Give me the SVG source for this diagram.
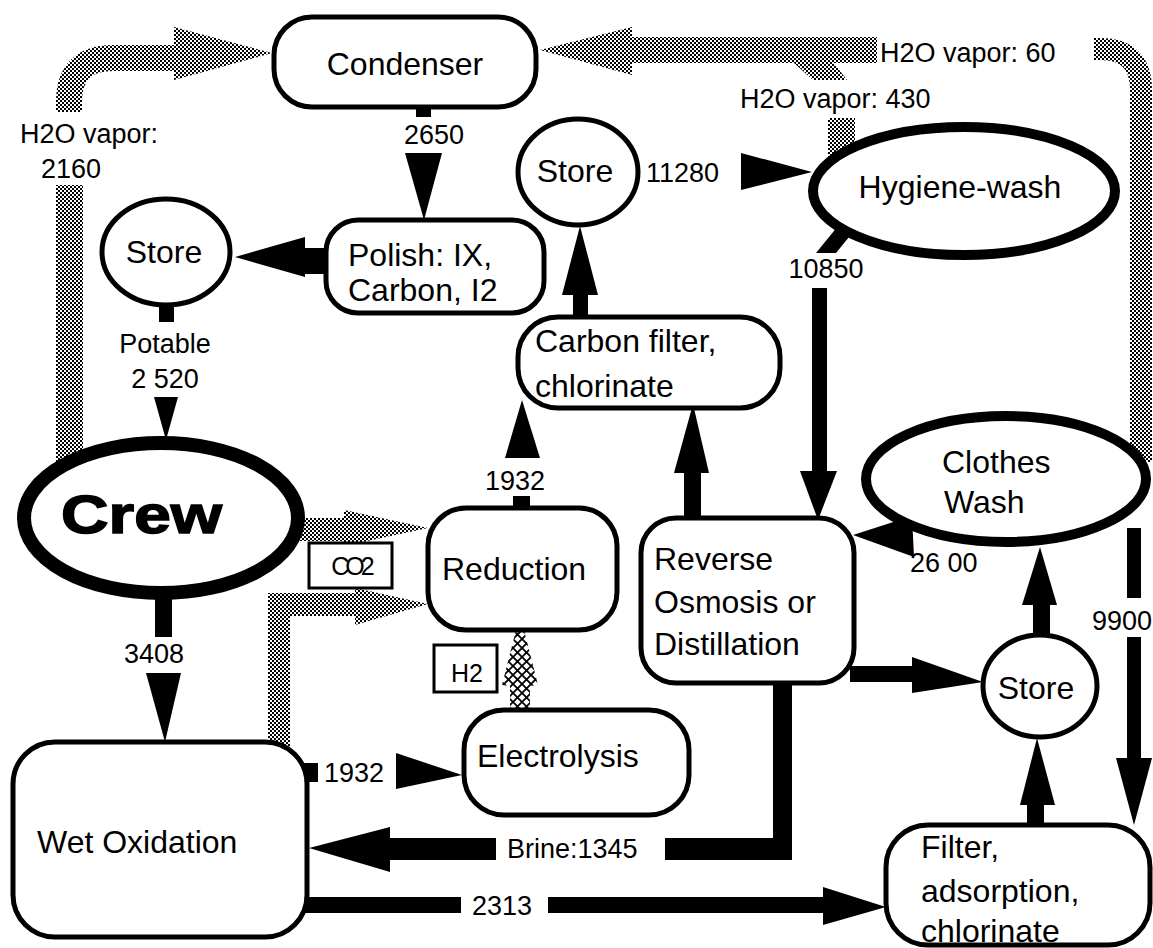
<svg xmlns="http://www.w3.org/2000/svg" width="1153" height="948" viewBox="0 0 1153 948">
<style>
.node{fill:#fff;stroke:#000;stroke-width:5}
.thick{stroke-width:10}
.crew{stroke-width:14}
.t{font-family:"Liberation Sans",Arial,Helvetica,sans-serif;font-size:32px;fill:#000}
.l{font-family:"Liberation Sans",Arial,Helvetica,sans-serif;font-size:27px;fill:#000}
.s{font-family:"Liberation Sans",Arial,Helvetica,sans-serif;font-size:25px;fill:#000}
.c{text-anchor:middle}
.blk{fill:#000}
.vap{fill:url(#dots)}
.vapl{fill:none;stroke:url(#dots)}
.tag{fill:#fff;stroke:#000;stroke-width:3}
</style>
<defs>
<pattern id="dots" width="4" height="4" patternUnits="userSpaceOnUse">
<rect width="4" height="4" fill="#fff"/>
<rect width="2" height="2" fill="#000"/>
<rect x="2" y="2" width="2" height="2" fill="#000"/>
</pattern>
<pattern id="hatch" width="9" height="9" patternUnits="userSpaceOnUse">
<rect width="9" height="9" fill="#fff"/>
<path d="M0,0 L9,9 M9,0 L0,9" stroke="#000" stroke-width="1.8"/>
</pattern>
</defs>
<rect width="1153" height="948" fill="#fff"/>

<g id="connectors">
<!-- H2O vapor 2160 -->
<path class="vapl" stroke-width="26" d="M69,112 V102 Q69,58 113,58 H178"/>
<polygon class="vap" points="174,27 272,53 174,80"/>
<rect class="vap" x="56" y="185" width="27" height="285"/>
<text class="l" x="20" y="143">H2O vapor:</text>
<text class="l c" x="71" y="178">2160</text>

<!-- H2O vapor 60 / 430 -->
<rect class="vap" x="628" y="37" width="249" height="26"/>
<polygon class="vap" points="632,27 540,50 632,75"/>
<polygon class="vap" points="793,62 833,62 847,80 813,80"/>
<path class="vapl" stroke-width="22" d="M1094,49 H1100 Q1141,49 1141,90 V462"/>
<text class="l" x="880" y="62">H2O vapor: 60</text>
<rect class="vap" x="828" y="118" width="27" height="40"/>
<text class="l" x="740" y="108">H2O vapor: 430</text>

<!-- Condenser to Polish -->
<rect class="blk" x="416" y="104" width="15" height="13"/>
<text class="l c" x="434" y="144">2650</text>
<polygon class="blk" points="405,153 442,153 424,220"/>

<!-- Polish to Store -->
<rect class="blk" x="303" y="248" width="26" height="26"/>
<polygon class="blk" points="305,237 235,257 305,277"/>

<!-- Store to Crew -->
<rect class="blk" x="159" y="303" width="15" height="19"/>
<text class="l c" x="165" y="353">Potable</text>
<text class="l c" x="165" y="388">2 520</text>
<polygon class="blk" points="154,397 178,397 166,440"/>

<!-- Carbon filter to Store -->
<rect class="blk" x="573" y="292" width="15" height="28"/>
<polygon class="blk" points="562,295 598,295 580,226"/>

<!-- Store to Hygiene -->
<text class="l" x="646" y="182">11280</text>
<polygon class="blk" points="741,153 812,172 741,190"/>

<!-- Hygiene to RO -->
<polygon class="blk" points="816,253 836,253 858,226 838,226"/>
<text class="l c" x="826" y="278">10850</text>
<rect class="blk" x="812" y="288" width="15" height="186"/>
<polygon class="blk" points="800,471 837,471 818,520"/>

<!-- RO to Carbon filter -->
<rect class="blk" x="684" y="470" width="17" height="52"/>
<polygon class="blk" points="674,473 709,473 693,404"/>

<!-- Reduction to Carbon filter -->
<rect class="blk" x="513" y="496" width="17" height="14"/>
<text class="l c" x="515" y="490">1932</text>
<polygon class="blk" points="505,458 540,458 522,400"/>

<!-- CO2 -->
<polygon class="vap" points="298,518 344,518 344,510 428,528 344,546 344,541 298,541"/>
<polygon class="vap" points="268,748 268,593 355,593 355,588 428,604 355,625 355,616 290,616 290,748"/>
<rect class="tag" x="309" y="543" width="83" height="45"/>
<text class="s c" x="351" y="575" letter-spacing="-4">CO2</text>

<!-- H2 -->
<polygon fill="url(#hatch)" points="516,630 524,630 538,685 530,686 530,712 510,712 510,686 502,685"/>
<rect class="tag" x="434" y="645" width="63" height="47"/>
<text class="s c" x="467" y="682">H2</text>

<!-- Crew to Wet Oxidation -->
<rect class="blk" x="155" y="592" width="17" height="45"/>
<text class="l c" x="154" y="663">3408</text>
<polygon class="blk" points="146,673 181,673 165,742"/>

<!-- Wet Oxidation to Electrolysis -->
<rect class="blk" x="304" y="763" width="14" height="19"/>
<text class="l" x="324" y="782">1932</text>
<polygon class="blk" points="396,753 462,775 396,789"/>

<!-- Brine -->
<polygon class="blk" points="773,680 792,680 792,860 665,860 665,838 773,838"/>
<text class="l" x="507" y="858">Brine:1345</text>
<rect class="blk" x="388" y="838" width="108" height="22"/>
<polygon class="blk" points="390,827 309,848 390,872"/>

<!-- Wet Oxidation to Filter -->
<rect class="blk" x="304" y="897" width="157" height="16"/>
<text class="l" x="472" y="915">2313</text>
<rect class="blk" x="548" y="897" width="277" height="16"/>
<polygon class="blk" points="823,887 886,907 823,925"/>

<!-- Clothes Wash to RO -->
<polygon class="blk" points="853,535 912,516 914,557"/>
<text class="l" x="910" y="572">26 00</text>

<!-- RO to Store -->
<rect class="blk" x="850" y="666" width="64" height="16"/>
<polygon class="blk" points="912,657 983,682 912,693"/>

<!-- Store to Clothes Wash -->
<rect class="blk" x="1033" y="600" width="17" height="36"/>
<polygon class="blk" points="1022,605 1057,605 1040,547"/>

<!-- Filter to Store -->
<rect class="blk" x="1027" y="800" width="17" height="28"/>
<polygon class="blk" points="1020,805 1055,805 1037,738"/>

<!-- Clothes Wash to Filter -->
<rect class="blk" x="1127" y="528" width="14" height="70"/>
<text class="l" x="1092" y="630">9900</text>
<rect class="blk" x="1127" y="637" width="14" height="123"/>
<polygon class="blk" points="1116,758 1152,758 1134,825"/>
</g>

<g id="condenser">
<rect class="node" x="274" y="17" width="262" height="90" rx="38"/>
<text class="t c" x="405" y="75">Condenser</text>
</g>
<g id="polish">
<rect class="node" x="326" y="220" width="218" height="93" rx="32"/>
<text class="t" x="348" y="266">Polish: IX,</text>
<text class="t" x="348" y="301">Carbon, I2</text>
</g>
<g id="store-potable">
<ellipse class="node" cx="166" cy="252" rx="64" ry="53"/>
<text class="t c" x="164" y="263">Store</text>
</g>
<g id="store-hygiene">
<ellipse class="node" cx="578" cy="172" rx="60" ry="53"/>
<text class="t c" x="575" y="182">Store</text>
</g>
<g id="carbon-filter">
<rect class="node" x="518" y="317" width="262" height="91" rx="40"/>
<text class="t" x="535" y="352">Carbon filter,</text>
<text class="t" x="535" y="397">chlorinate</text>
</g>
<g id="hygiene-wash">
<ellipse class="node thick" cx="964" cy="191" rx="151" ry="64"/>
<text class="t c" x="960" y="198">Hygiene-wash</text>
</g>
<g id="crew">
<ellipse class="node crew" cx="161" cy="518" rx="137" ry="75"/>
<text x="61" y="533" textLength="161" lengthAdjust="spacingAndGlyphs" style="font-family:'Liberation Sans',Arial,sans-serif;font-weight:bold;font-size:54px;fill:#000;stroke:#000;stroke-width:1.5">Crew</text>
</g>
<g id="reduction">
<rect class="node" x="428" y="508" width="189" height="122" rx="38"/>
<text class="t" x="442" y="580">Reduction</text>
</g>
<g id="reverse-osmosis">
<rect class="node" x="641" y="518" width="213" height="165" rx="35"/>
<text class="t" x="654" y="570">Reverse</text>
<text class="t" x="654" y="613">Osmosis or</text>
<text class="t" x="654" y="655">Distillation</text>
</g>
<g id="clothes-wash">
<ellipse class="node thick" cx="1006" cy="479" rx="140" ry="63"/>
<text class="t" x="942" y="473">Clothes</text>
<text class="t" x="944" y="513">Wash</text>
</g>
<g id="store-clothes">
<ellipse class="node" cx="1040" cy="686" rx="57" ry="51"/>
<text class="t c" x="1036" y="699">Store</text>
</g>
<g id="electrolysis">
<rect class="node" x="464" y="710" width="225" height="105" rx="40"/>
<text class="t" x="477" y="767">Electrolysis</text>
</g>
<g id="wet-oxidation">
<rect class="node" x="13" y="742" width="294" height="195" rx="42"/>
<text class="t" x="37" y="853">Wet Oxidation</text>
</g>
<g id="filter">
<rect class="node" x="886" y="825" width="264" height="120" rx="42"/>
<text class="t" x="921" y="858">Filter,</text>
<text class="t" x="921" y="902">adsorption,</text>
<text class="t" x="921" y="942">chlorinate</text>
</g>
</svg>
